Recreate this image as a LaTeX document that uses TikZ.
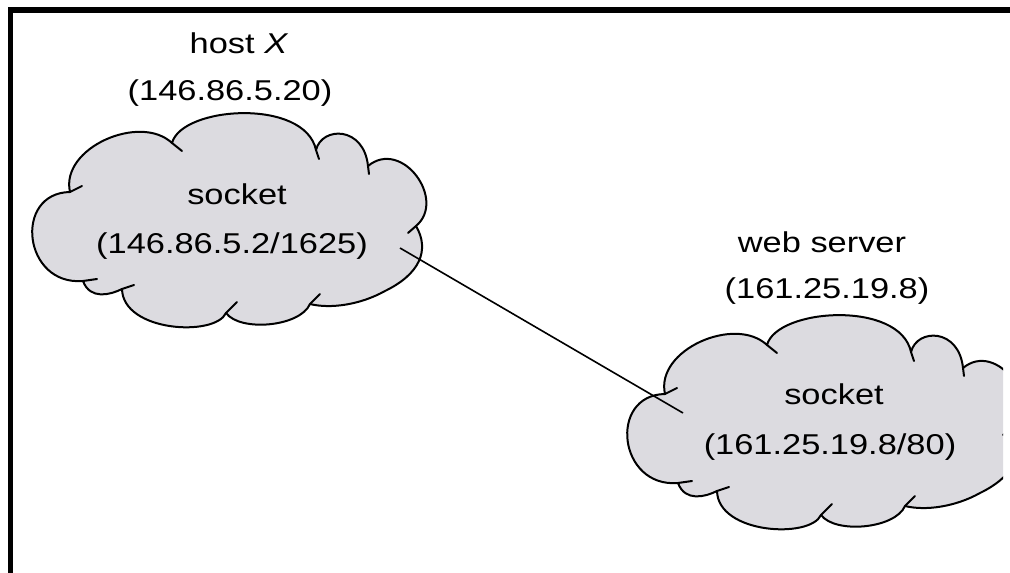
\documentclass[tikz,border=0pt]{standalone}
\usepackage{fontspec}
\setmainfont{Liberation Sans}[FakeStretch=1.2]
\definecolor{cloudgray}{RGB}{220,219,224}
\newcommand{\mycloud}{%
  \path[cloudbody] (70,192) .. controls (60,148) and (140,113) .. (172,143)
    .. controls (182,106) and (305,98) .. (316,150)
    .. controls (322,126) and (364,126) .. (368,166)
    .. controls (402,138) and (447,200) .. (416,226)
    .. controls (430,250) and (420,274) .. (385,291)
    .. controls (360,305) and (330,309) .. (310,304)
    .. controls (300,327) and (240,332) .. (226,313)
    .. controls (215,337) and (123,332) .. (122,289)
    .. controls (110,295) and (90,300) .. (83,281)
    .. controls (23,286) and (13,193) .. cycle;
  \draw[hookline] (70,192) -- (82,186);
  \draw[hookline] (172,143) -- (182,151);
  \draw[hookline] (316,150) -- (319,159);
  \draw[hookline] (368,166) -- (369,174);
  \draw[hookline] (416,226) -- (408,233);
  \draw[hookline] (310,304) -- (320,294);
  \draw[hookline] (226,313) -- (237,302);
  \draw[hookline] (122,289) -- (134,285);
  \draw[hookline] (83,281) -- (97,279);
}
\tikzset{
  cloudbody/.style={fill=cloudgray, draw=black, line width=1.5pt, line join=round},
  hookline/.style={draw=black, line width=1.5pt, line cap=round},
  lbl/.style={font=\fontsize{21.5}{25}\selectfont, anchor=base, inner sep=0pt},
  conn/.style={draw=black, line width=1.2pt},
  framebar/.style={fill=black}
}
\begin{document}
\begin{tikzpicture}[x=0.75pt,y=-0.75pt]
  \useasboundingbox[fill=white] (0,0) rectangle (1010,573);
  % frame
  \fill[framebar] (8,7) rectangle (1010,13);
  \fill[framebar] (8,7) rectangle (13,573);
  % clouds
  \begin{scope}
    \mycloud
  \end{scope}
  \begin{scope}
    \clip (0,0) rectangle (1003,573);
    \begin{scope}[shift={(595,202)}]
      \mycloud
    \end{scope}
  \end{scope}
  % connector end points
  \coordinate (sockA) at (400,248);
  \coordinate (sockB) at (683,413);
  \draw[conn] (sockA) -- (sockB);
  % texts
  \node[lbl] (hostx) at (239,54) {host \textit{X}};
  \node[lbl] (hostip) at (230,101) {(146.86.5.20)};
  \node[lbl] (sock1) at (237,205) {socket};
  \node[lbl] (sock1ip) at (232,254) {(146.86.5.2/1625)};
  \node[lbl] (web) at (822,253) {web server};
  \node[lbl] (webip) at (827,299) {(161.25.19.8)};
  \node[lbl] (sock2) at (834,405) {socket};
  \node[lbl] (sock2ip) at (830,455) {(161.25.19.8/80)};
\end{tikzpicture}
\end{document}
